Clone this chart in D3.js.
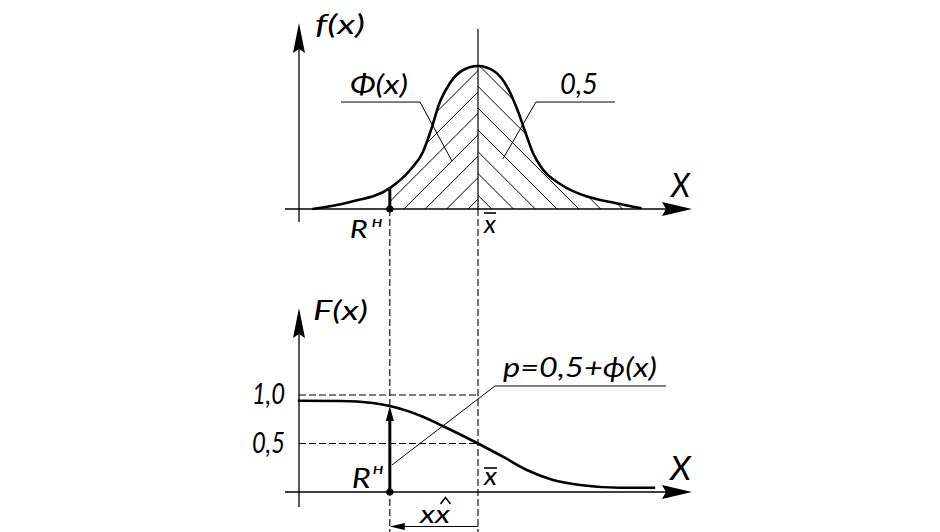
<!DOCTYPE html>
<html><head><meta charset="utf-8">
<script src="https://cdn.jsdelivr.net/npm/d3@7"></script>
<style>
html,body{margin:0;padding:0;background:#fff;}
svg{display:block;}
text{font-family:Lato,"DejaVu Sans",sans-serif;font-style:italic;font-weight:400;fill:#000;}
</style></head><body>
<svg id="c" width="940" height="532"></svg>
<script>
// ---- data (x in units of the variable, mean = 0) ----
const pdfX = [-4, -3.09, -2.13, -1.64, -1.33, -1.12, -0.92, -0.68, -0.36, 0, 0.41, 0.72, 0.97, 1.14, 1.33, 1.54, 2.02, 2.66, 3.31, 3.95];
const pdfF = [0, 0.049, 0.146, 0.273, 0.399, 0.566, 0.75, 0.88, 0.972, 1, 0.96, 0.846, 0.68, 0.54, 0.39, 0.287, 0.168, 0.085, 0.042, 0.005];
const cdfX = [-4.35, -3.33, -2.54, -2.13, -1.33, -0.85, 0, 0.60, 1.18, 1.81, 2.46, 3.43, 4.28];
const cdfF = [0.94, 0.938, 0.918, 0.887, 0.776, 0.68, 0.5, 0.364, 0.227, 0.124, 0.072, 0.044, 0.044];
const meanX = 0;
const rX = -2.13;
const cdfTicks = [0.5, 1.0];
const cdfTickLabels = ["0,5", "1,0"];
const phiLeader = [[-3.31, 0.748], [-1.40, 0.748], [-0.63, 0.336]];
const halfLeader = [[3.31, 0.748], [1.40, 0.748], [0.60, 0.35]];
const pLeader = [[-2.08, 0.278], [0.41, 1.093], [4.54, 1.093]];

// ---- layout ----
const svg = d3.select("#c");
const cx = 478, unit = 41.4;
const x = d3.scaleLinear().domain([0, 1]).range([cx, cx + unit]);
const yTop = d3.scaleLinear().domain([0, 1]).range([209, 66]);
const yBot = d3.scaleLinear().domain([0, 1]).range([492, 395]);
const axisX = 299, axL = 285, axR = 692;

const pdf = pdfX.map((v, i) => [v, pdfF[i]]);
const cdf = cdfX.map((v, i) => [v, cdfF[i]]);
const fAtR = pdfF[pdfX.indexOf(rX)];
const FAtR = cdfF[cdfX.indexOf(rX)];

const lineTop = d3.line().x(d => x(d[0])).y(d => yTop(d[1])).curve(d3.curveMonotoneX);
const lineBot = d3.line().x(d => x(d[0])).y(d => yBot(d[1])).curve(d3.curveMonotoneX);
const areaTop = d3.area().x(d => x(d[0])).y0(yTop(0)).y1(d => yTop(d[1])).curve(d3.curveMonotoneX);

const defs = svg.append("defs");
defs.append("clipPath").attr("id", "underCurve").append("path").attr("d", areaTop(pdf));
defs.append("clipPath").attr("id", "leftPart").append("rect")
  .attr("x", x(rX)).attr("y", 0).attr("width", x(meanX) - x(rX)).attr("height", yTop(0));
defs.append("clipPath").attr("id", "rightPart").append("rect")
  .attr("x", x(meanX)).attr("y", 0).attr("width", 300).attr("height", yTop(0));

// hatching
const base = yTop(0);
const gl = svg.append("g").attr("clip-path", "url(#leftPart)").append("g").attr("clip-path", "url(#underCurve)");
for (let k = 0; k < 12; k++) {
  const b = x(meanX) - 10 - 21.4 * k;
  gl.append("line").attr("x1", b).attr("y1", base).attr("x2", b + 220).attr("y2", base - 220)
    .attr("stroke", "#000").attr("stroke-width", 1);
}
const gr = svg.append("g").attr("clip-path", "url(#rightPart)").append("g").attr("clip-path", "url(#underCurve)");
for (let k = 0; k < 10; k++) {
  const b = x(meanX) + 13.7 + 21.8 * k;
  gr.append("line").attr("x1", b).attr("y1", base).attr("x2", b - 220).attr("y2", base - 220)
    .attr("stroke", "#000").attr("stroke-width", 1);
}

// center line (solid in top plot)
svg.append("line").attr("x1", x(meanX)).attr("x2", x(meanX)).attr("y1", 29).attr("y2", base)
  .attr("stroke", "#000").attr("stroke-width", 1.2);
// dashed projection lines
[rX, meanX].forEach(v => {
  svg.append("line").attr("x1", x(v)).attr("x2", x(v)).attr("y1", base).attr("y2", 532)
    .attr("stroke", "#000").attr("stroke-width", 1.1).attr("stroke-dasharray", "7,3");
});
cdfTicks.forEach(t => {
  svg.append("line").attr("x1", axisX).attr("x2", x(meanX)).attr("y1", yBot(t)).attr("y2", yBot(t))
    .attr("stroke", "#000").attr("stroke-width", 1.1).attr("stroke-dasharray", "7,3");
});

// axes with arrows
function axes(yBase, yTopTip, yBottom) {
  svg.append("line").attr("x1", axL).attr("x2", axR - 20).attr("y1", yBase).attr("y2", yBase)
    .attr("stroke", "#000").attr("stroke-width", 1.3);
  svg.append("path").attr("d", `M${axR},${yBase} L${axR - 30},${yBase - 7} L${axR - 26},${yBase} L${axR - 30},${yBase + 7} Z`)
    .attr("fill", "#000");
  svg.append("line").attr("x1", axisX).attr("x2", axisX).attr("y1", yBottom).attr("y2", yTopTip + 20)
    .attr("stroke", "#000").attr("stroke-width", 1.3);
  svg.append("path").attr("d", `M${axisX},${yTopTip} L${axisX - 6},${yTopTip + 30} L${axisX},${yTopTip + 26} L${axisX + 6},${yTopTip + 30} Z`)
    .attr("fill", "#000");
}
axes(yTop(0), 23, 222);
axes(yBot(0), 308, 507);

// curves
svg.append("path").attr("d", lineTop(pdf)).attr("fill", "none").attr("stroke", "#000").attr("stroke-width", 2.6);
svg.append("path").attr("d", lineBot(cdf)).attr("fill", "none").attr("stroke", "#000").attr("stroke-width", 2.6);

// R line top
svg.append("line").attr("x1", x(rX)).attr("x2", x(rX)).attr("y1", yTop(0)).attr("y2", yTop(fAtR))
  .attr("stroke", "#000").attr("stroke-width", 3);
// R arrow bottom
svg.append("line").attr("x1", x(rX)).attr("x2", x(rX)).attr("y1", yBot(0)).attr("y2", yBot(FAtR) + 10)
  .attr("stroke", "#000").attr("stroke-width", 3);
svg.append("path").attr("d", `M${x(rX)},${yBot(FAtR)} L${x(rX) - 4},${yBot(FAtR) + 15} L${x(rX) + 4},${yBot(FAtR) + 15} Z`).attr("fill", "#000");
// dots
[yTop(0), yBot(0)].forEach(yy => svg.append("circle").attr("cx", x(rX)).attr("cy", yy).attr("r", 3.6).attr("fill", "#000"));

// leaders
const lt = d3.line().x(d => x(d[0])).y(d => yTop(d[1]));
const lb = d3.line().x(d => x(d[0])).y(d => yBot(d[1]));
svg.append("path").attr("d", lt(phiLeader)).attr("fill", "none").attr("stroke", "#000").attr("stroke-width", 1);
svg.append("path").attr("d", lt(halfLeader)).attr("fill", "none").attr("stroke", "#000").attr("stroke-width", 1);
svg.append("path").attr("d", lb(pLeader)).attr("fill", "none").attr("stroke", "#000").attr("stroke-width", 1);

// dimension line
const dimY = 526.5;
svg.append("line").attr("x1", x(rX) + 4).attr("x2", x(meanX)).attr("y1", dimY).attr("y2", dimY)
  .attr("stroke", "#000").attr("stroke-width", 1.2);
svg.append("path").attr("d", `M${x(rX)},${dimY} L${x(rX) + 15},${dimY - 3.5} L${x(rX) + 15},${dimY + 3.5} Z`).attr("fill", "#000");

// y tick labels for F(x)
const yAxis = d3.axisLeft(yBot).tickValues(cdfTicks).tickSize(0).tickPadding(axisX - axL)
  .tickFormat((d, i) => cdfTickLabels[i]);
const ga = svg.append("g").attr("transform", `translate(${axisX},0)`).call(yAxis);
ga.attr("font-family", null).attr("font-size", null);
ga.select(".domain").remove();
ga.selectAll("text")
  .style("font-family", "Lato, 'DejaVu Sans', sans-serif").style("font-style", "italic").style("font-weight", "400")
  .style("font-size", "28px").attr("fill", "#000")
  .attr("textLength", 33).attr("lengthAdjust", "spacingAndGlyphs");

// labels
function label(t, px, py, size, len) {
  const e = svg.append("text").attr("x", px).attr("y", py).style("font-size", size + "px").text(t);
  if (len) e.attr("textLength", len).attr("lengthAdjust", "spacingAndGlyphs");
  return e;
}
label("f(x)", axisX + 16, 34, 27, 50);
label("F(x)", axisX + 14, 320, 27, 55);
label("Φ(x)", 350, 94, 27, 58);
label("0,5", 560, 94, 28, 38);
label("X", 671, 197, 33, 19);
label("X", 670, 480, 33, 21);
label("R", x(rX) - 40, 238, 26, 18);
label("н", x(rX) - 18, 227, 15, 11);
label("R", x(rX) - 38, 488, 27, 19);
label("н", x(rX) - 17, 474, 15, 11);
label("x", x(meanX) + 6, 233, 26, 12);
svg.append("line").attr("x1", x(meanX) + 6).attr("x2", x(meanX) + 18).attr("y1", 213).attr("y2", 213).attr("stroke", "#000").attr("stroke-width", 1.6);
label("x", x(meanX) + 6, 485, 26, 13);
svg.append("line").attr("x1", x(meanX) + 6).attr("x2", x(meanX) + 19).attr("y1", 468).attr("y2", 468).attr("stroke", "#000").attr("stroke-width", 1.6);
label("xx", 420, 523, 26, 30);
// circumflex over the second x
svg.append("path").attr("d", "M440.5,504 L445.5,497.5 L450.5,504").attr("fill", "none").attr("stroke", "#000").attr("stroke-width", 1.5);
label("p=0,5+ϕ(x)", 503, 377, 27, 154);
</script>
</body></html>
